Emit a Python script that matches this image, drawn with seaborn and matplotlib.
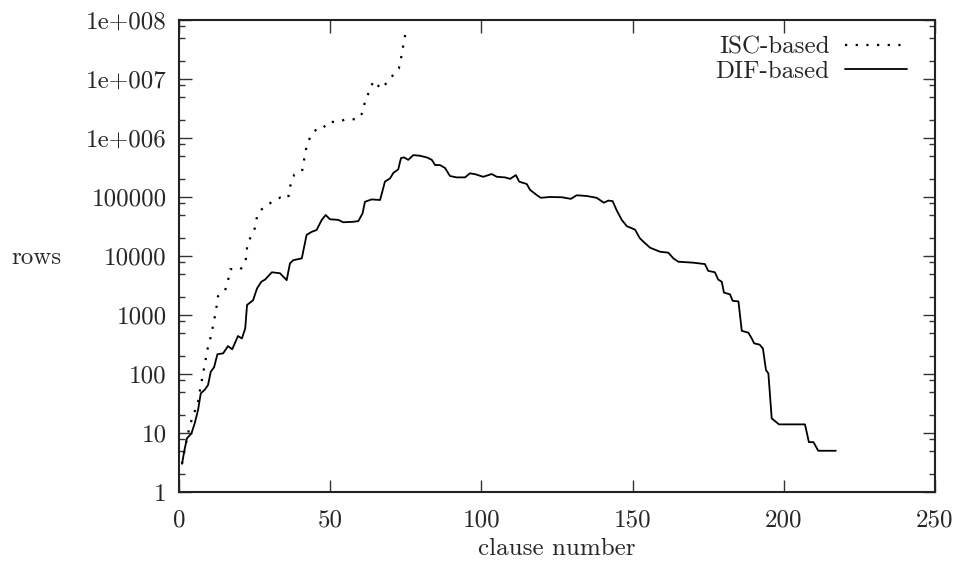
import numpy as np
import pandas as pd
import matplotlib
matplotlib.use("Agg")
import matplotlib.pyplot as plt
import matplotlib.ticker as mticker
import seaborn as sns

# ISC-based table size per clause
isc_x = [1.0, 1.7, 2.7, 3.6, 5.0, 6.2, 6.9, 7.9, 8.7, 9.5, 10.6, 11.5, 12.3, 12.9,
         15.2, 16.1, 17.0, 20.3, 21.9, 22.2, 22.6, 25.1, 25.9, 27.9, 30.9, 33.5,
         36.1, 36.7, 38.1, 40.7, 41.4, 42.2, 43.7, 45.5, 47.3, 49.5, 52.3, 55.2,
         59.1, 60.9, 61.6, 62.9, 64.3, 66.9, 68.9, 70.7, 72.7, 73.6, 74.3, 75.0]
isc_y = [3, 4.8, 8.3, 13.5, 22, 31, 52, 98, 164, 273, 447, 753, 1250, 2090,
         2570, 3620, 6000, 5900, 7800, 9500, 15800, 29800, 49500, 67000, 83000, 98000,
         96000, 149000, 240000, 275000, 437000, 730000, 1.14e6, 1.41e6, 1.41e6, 1.9e6, 1.85e6, 2.08e6,
         2.08e6, 2.76e6, 4.6e6, 6.0e6, 9.3e6, 6.8e6, 8.9e6, 1.15e7, 1.5e7, 2.5e7, 4.1e7, 6.3e7]

# DIF-based table size per clause (solid curve)
dif_x = [1.0, 1.7, 2.6, 4.1, 5.2, 6.3, 7.2, 8.5, 9.6, 10.5, 11.6, 12.7, 14.6, 16.2,
         17.6, 19.5, 20.8, 21.9, 22.5, 24.5, 25.8, 27.2, 28.5, 30.7, 33.4, 35.6,
         36.7, 37.8, 40.6, 42.2, 43.9, 45.5, 47.2, 48.5, 49.9, 52.7, 54.3, 57.6,
         59.3, 60.7, 61.5, 63.7, 66.5, 68.1, 69.8, 70.9, 72.5, 73.4, 74.4, 75.8,
         77.5, 79.7, 82.1, 83.6, 84.7, 86.3, 88.0, 89.6, 91.8, 94.6, 96.2, 98.0,
         100.6, 103.4, 105.1, 107.8, 109.5, 111.4, 112.5, 115.0, 116.1, 118.3, 119.6,
         122.7, 126.6, 129.6, 131.5, 134.8, 138.1, 140.5, 142.0, 143.4, 144.7, 146.4,
         148.1, 150.8, 152.4, 154.1, 155.8, 159.1, 161.8, 163.5, 165.1, 170.1, 173.9,
         175.0, 177.2, 178.3, 179.5, 180.2, 182.2, 183.1, 185.0, 186.1, 188.3, 189.4,
         190.2, 192.0, 193.1, 194.1, 194.9, 196.0, 198.4, 207.0, 208.3, 209.8, 211.4, 217.2]
dif_y = [3, 4.8, 8.1, 9.8, 14.6, 24.5, 47, 54, 65, 109, 130, 216, 224, 297,
         262, 440, 400, 590, 1480, 1780, 2820, 3650, 4000, 5300, 5100, 3900,
         7500, 8500, 9100, 22800, 25700, 27600, 40900, 49500, 42000, 40900, 37300, 38000,
         39000, 52800, 83000, 91000, 89000, 182000, 207000, 257000, 294000, 455000, 470000, 426000,
         513000, 500000, 466000, 426000, 348000, 348000, 309000, 227000, 215000, 215000, 252000, 243000,
         220000, 245000, 220000, 215000, 203000, 235000, 182000, 166000, 132000, 108000, 97000,
         100000, 99000, 93000, 107000, 104000, 97000, 80000, 87000, 85000, 60000, 41000,
         32000, 28000, 20000, 16500, 13800, 11800, 11400, 9100, 8000, 7700, 7300,
         5600, 5300, 4000, 3650, 2400, 2240, 1740, 1700, 540, 500, 400,
         330, 315, 270, 117, 102, 17.7, 14, 14, 7, 7, 5, 5]

x_ticks = [0, 50, 100, 150, 200, 250]
y_ticks = [1, 10, 100, 1000, 10000, 100000, 1e6, 1e7, 1e8]
y_tick_labels = ['1', '10', '100', '1000', '10000', '100000', '1e+006', '1e+007', '1e+008']

sns.set_style('ticks')
plt.rcParams['font.family'] = ['cmr10', 'DejaVu Serif']
plt.rcParams['axes.unicode_minus'] = False
plt.rcParams['axes.formatter.use_mathtext'] = True

fig = plt.figure(figsize=(9.61, 5.75), dpi=100)
ax = fig.add_axes([179 / 961, 1 - 492 / 575, 756 / 961, 472 / 575])

isc = pd.DataFrame({'clause': isc_x, 'rows': isc_y})
dif = pd.DataFrame({'clause': dif_x, 'rows': dif_y})

sns.lineplot(data=isc, x='clause', y='rows', ax=ax, color='black', lw=1.6,
             linestyle=(0, (1, 3.8)), dash_capstyle='butt', sort=False,
             estimator=None, label='ISC-based')
sns.lineplot(data=dif, x='clause', y='rows', ax=ax, color='black', lw=1.3,
             sort=False, estimator=None, label='DIF-based')

ax.set_yscale('log')
ax.set_xlim(0, 250)
ax.set_ylim(1, 1e8)

fs = 18
ax.xaxis.set_major_locator(mticker.FixedLocator(x_ticks))
ax.xaxis.set_minor_locator(mticker.NullLocator())
ax.set_xticklabels([str(t) for t in x_ticks], fontsize=fs)
ax.yaxis.set_major_locator(mticker.FixedLocator(y_ticks))
ax.yaxis.set_minor_locator(mticker.LogLocator(base=10, subs=(2, 5, 8), numticks=20))
ax.yaxis.set_minor_formatter(mticker.NullFormatter())
ax.set_yticklabels(y_tick_labels, fontsize=fs)

ax.tick_params(which='both', direction='in', top=True, right=True, width=1.0, color='#333333')
ax.tick_params(which='major', length=9)
ax.tick_params(which='minor', length=4.5)
ax.tick_params(axis='x', which='major', pad=12.5)
ax.tick_params(axis='y', which='major', pad=9)
for s in ax.spines.values():
    s.set_linewidth(1.5)
    s.set_color('#222222')

ax.set_xlabel('clause number', fontsize=fs, va='center')
ax.xaxis.set_label_coords(0.5, -0.121)
ax.set_ylabel('rows', fontsize=fs, rotation=0, ha='center', va='center')
ax.yaxis.set_label_coords(-0.188, 0.496)

leg = ax.legend(loc='upper right', bbox_to_anchor=(0.963, 0.966), frameon=False,
                markerfirst=False, fontsize=fs, handlelength=2.5,
                handletextpad=0.6, labelspacing=0.08, borderaxespad=0, borderpad=0)

fig.savefig('out.png', dpi=100)
